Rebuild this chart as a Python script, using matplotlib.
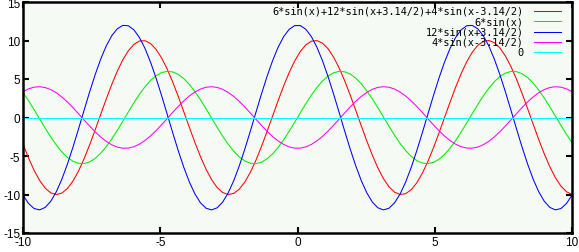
import numpy as np
import matplotlib.pyplot as plt

plt.rcParams['font.family'] = 'Liberation Sans'
plt.rcParams['axes.unicode_minus'] = False

# curves read from the key: amplitude * sin(x + phase)
labels = ['6*sin(x)+12*sin(x+3.14/2)+4*sin(x-3.14/2)', '6*sin(x)',
          '12*sin(x+3.14/2)', '4*sin(x-3.14/2)', '0']
amps = [6, 12, 4]
phases = [0, 3.14 / 2, -3.14 / 2]
colors = ['#ff0000', '#00ee00', '#0000ff', '#ff00ff', '#00ffff']
xticks = [-10, -5, 0, 5, 10]
yticks = [-15, -10, -5, 0, 5, 10, 15]

x = np.linspace(-10, 10, 100)
parts = [a * np.sin(x + p) for a, p in zip(amps, phases)]
series = [parts[0] + parts[1] + parts[2], parts[0], parts[1], parts[2], np.zeros_like(x)]

fig = plt.figure(figsize=(5.79, 2.53), dpi=100)
fig.patch.set_facecolor('white')
ax = fig.add_axes([23 / 579, 19 / 253, 549 / 579, 231 / 253])
ax.set_facecolor('#f5faf5')

for y, c in zip(series, colors):
    ax.plot(x, y, color=c, lw=0.75)

ax.set_xlim(-10, 10)
ax.set_ylim(-15, 15)
ax.set_xticks(xticks)
ax.set_yticks(yticks)
ax.tick_params(direction='in', length=4, width=1.5, top=True, right=True,
               labelsize=8.5, pad=2)
for s in ax.spines.values():
    s.set_linewidth(1.8)

# key, text right aligned with the sample line to its right
for i, (lab, c) in enumerate(zip(labels, colors)):
    yf = (231 - 9 - i * 10.3) / 231
    ax.text(0.912, yf, lab, transform=ax.transAxes,
            ha='right', va='center', fontsize=7.4, family='DejaVu Sans Mono')
    ax.plot([0.93, 0.98], [yf, yf], transform=ax.transAxes,
            color=c, lw=0.75)

fig.savefig('out.png', dpi=100)
